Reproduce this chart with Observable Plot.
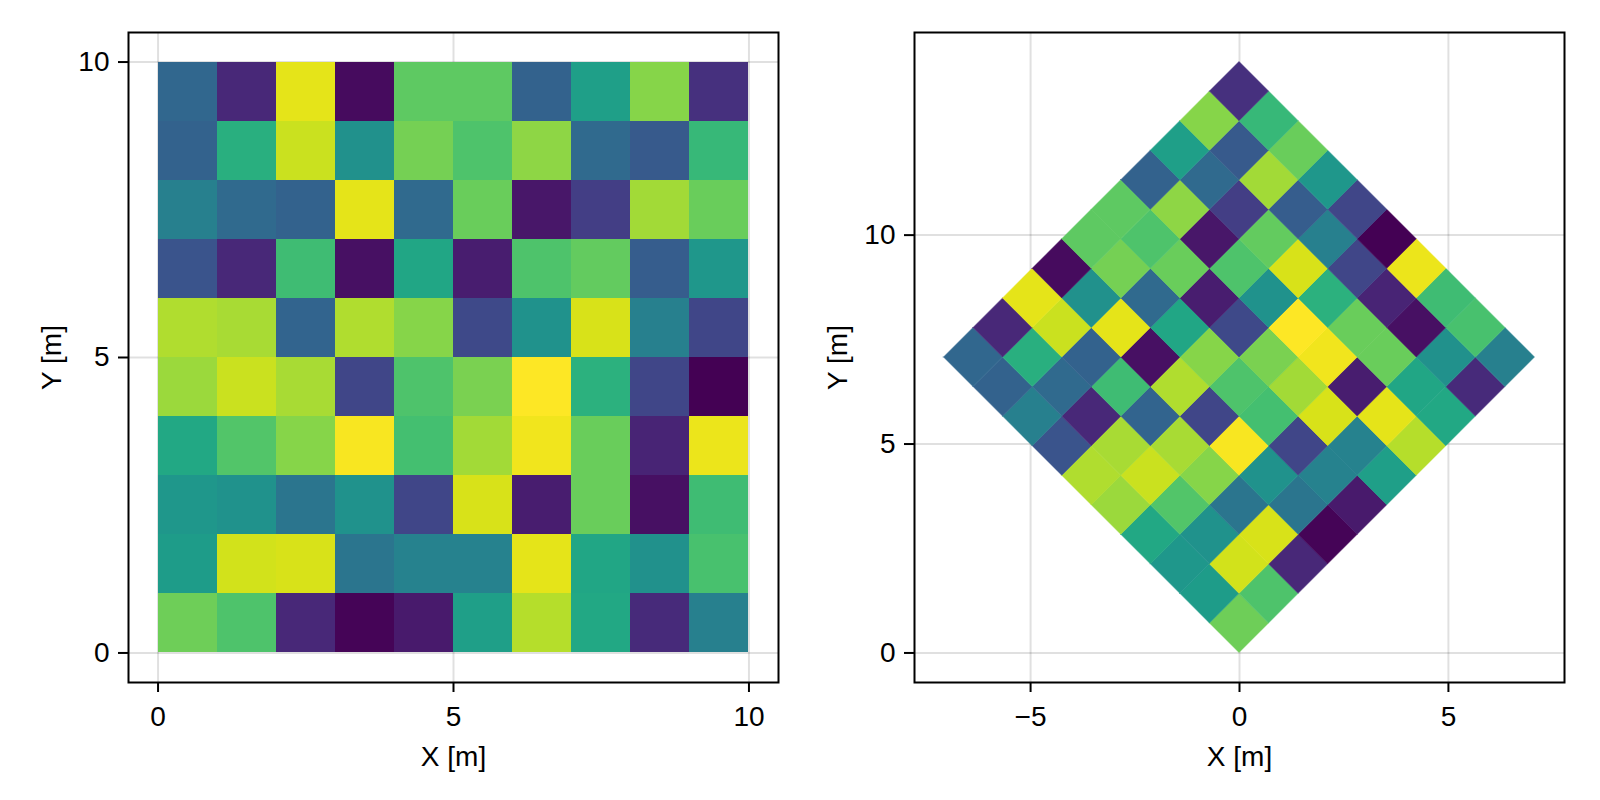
<!DOCTYPE html>
<html>
<head>
<meta charset="utf-8">
<script src="https://cdn.jsdelivr.net/npm/d3@7"></script>
<script src="https://cdn.jsdelivr.net/npm/@observablehq/plot@0.6"></script>
<style>
  html, body { margin: 0; padding: 0; background: #fff; }
  #wrap { display: flex; width: 1600px; height: 800px; }
  #wrap > div { width: 800px; height: 800px; }
</style>
</head>
<body>
<div id="wrap"><div id="left"></div><div id="right"></div></div>
<script>
// Cell column indices (x) and row indices (y), unit cells
const xIndex = [0, 1, 2, 3, 4, 5, 6, 7, 8, 9];
const yIndex = [0, 1, 2, 3, 4, 5, 6, 7, 8, 9];

// Cell values (0..1), rows listed from top (y = 9) to bottom (y = 0)
const rowY9 = [0.33, 0.11, 0.96, 0.03, 0.75, 0.75, 0.31, 0.56, 0.82, 0.14];
const rowY8 = [0.31, 0.63, 0.92, 0.50, 0.79, 0.72, 0.83, 0.34, 0.28, 0.67];
const rowY7 = [0.43, 0.34, 0.31, 0.96, 0.34, 0.77, 0.06, 0.18, 0.86, 0.77];
const rowY6 = [0.26, 0.11, 0.69, 0.04, 0.59, 0.08, 0.72, 0.76, 0.29, 0.53];
const rowY5 = [0.88, 0.87, 0.32, 0.88, 0.82, 0.22, 0.51, 0.94, 0.43, 0.21];
const rowY4 = [0.85, 0.92, 0.87, 0.21, 0.72, 0.80, 1.00, 0.64, 0.21, 0.00];
const rowY3 = [0.60, 0.73, 0.82, 0.99, 0.70, 0.86, 0.98, 0.77, 0.10, 0.97];
const rowY2 = [0.53, 0.51, 0.39, 0.51, 0.21, 0.94, 0.08, 0.77, 0.04, 0.69];
const rowY1 = [0.55, 0.93, 0.94, 0.39, 0.44, 0.44, 0.96, 0.59, 0.50, 0.71];
const rowY0 = [0.78, 0.72, 0.11, 0.01, 0.07, 0.56, 0.89, 0.60, 0.12, 0.43];
const rowsTopDown = [rowY9, rowY8, rowY7, rowY6, rowY5, rowY4, rowY3, rowY2, rowY1, rowY0];

const rotationDeg = 45;
const leftTicks = [0, 5, 10];
const rightXTicks = [-5, 0, 5];
const rightYTicks = [0, 5, 10];
const xLabel = "X [m]";
const yLabel = "Y [m]";

// Build cells table
const cells = [];
yIndex.forEach(j => {
  xIndex.forEach(i => {
    cells.push({id: j * 10 + i, i, j, v: rowsTopDown[9 - j][i]});
  });
});

// Rotated cells: each unit square rotated by 45° becomes a diamond
const th = rotationDeg * Math.PI / 180;
const rot = (x, y) => [x * Math.cos(th) - y * Math.sin(th), x * Math.sin(th) + y * Math.cos(th)];
const diamonds = [];
cells.forEach(c => {
  const B = rot(c.i, c.j), R = rot(c.i + 1, c.j), T = rot(c.i + 1, c.j + 1), L = rot(c.i, c.j + 1);
  diamonds.push({id: c.id, v: c.v, x: L[0], y1: L[1], y2: L[1]});
  diamonds.push({id: c.id, v: c.v, x: B[0], y1: B[1], y2: T[1]});
  diamonds.push({id: c.id, v: c.v, x: R[0], y1: R[1], y2: R[1]});
});

const font = "'Liberation Sans', Arial, Helvetica, sans-serif";
const color = {type: "linear", scheme: "viridis", domain: [0, 1]};
const gridStyle = {stroke: "black", strokeOpacity: 0.12, strokeWidth: 2};
const axisCommon = {tickSize: 10, strokeWidth: 2, stroke: "black", fill: "black", fontSize: 28, labelAnchor: "center", labelArrow: "none"};

// Extents with 5% margins (as in the original auto limits)
const pad = (lo, hi) => { const m = (hi - lo) * 0.05; return [lo - m, hi + m]; };
const rx = d3.extent(diamonds, d => d.x);
const ry = [d3.min(diamonds, d => d.y1), d3.max(diamonds, d => d.y2)];

const left = Plot.plot({
  width: 800, height: 800,
  marginLeft: 128, marginRight: 22, marginTop: 32, marginBottom: 118,
  style: {fontFamily: font, fontSize: "28px", background: "white", color: "black"},
  x: {domain: pad(0, 10)},
  y: {domain: pad(0, 10)},
  color,
  marks: [
    Plot.gridX({ticks: leftTicks, ...gridStyle}),
    Plot.gridY({ticks: leftTicks, ...gridStyle}),
    Plot.rect(cells, {x1: "i", x2: d => d.i + 1, y1: "j", y2: d => d.j + 1, fill: "v", shapeRendering: "crispEdges"}),
    Plot.axisX({ticks: leftTicks, tickPadding: 14, label: xLabel, labelOffset: 83, ...axisCommon}),
    Plot.axisY({ticks: leftTicks, tickPadding: 9, label: yLabel, labelOffset: 87, ...axisCommon}),
    Plot.frame({stroke: "black", strokeWidth: 2})
  ]
});
document.getElementById("left").appendChild(left);

const right = Plot.plot({
  width: 800, height: 800,
  marginLeft: 114, marginRight: 36, marginTop: 32, marginBottom: 118,
  style: {fontFamily: font, fontSize: "28px", background: "white", color: "black"},
  x: {domain: pad(rx[0], rx[1])},
  y: {domain: pad(ry[0], ry[1])},
  color,
  marks: [
    Plot.gridX({ticks: rightXTicks, ...gridStyle}),
    Plot.gridY({ticks: rightYTicks, ...gridStyle}),
    Plot.area(diamonds, {x1: "x", y1: "y1", y2: "y2", z: "id", fill: "v", stroke: "v", strokeWidth: 0.6, curve: "linear"}),
    Plot.axisX({ticks: rightXTicks, tickPadding: 14, label: xLabel, labelOffset: 83, ...axisCommon}),
    Plot.axisY({ticks: rightYTicks, tickPadding: 9, label: yLabel, labelOffset: 87, ...axisCommon}),
    Plot.frame({stroke: "black", strokeWidth: 2})
  ]
});
document.getElementById("right").appendChild(right);
</script>
</body>
</html>
